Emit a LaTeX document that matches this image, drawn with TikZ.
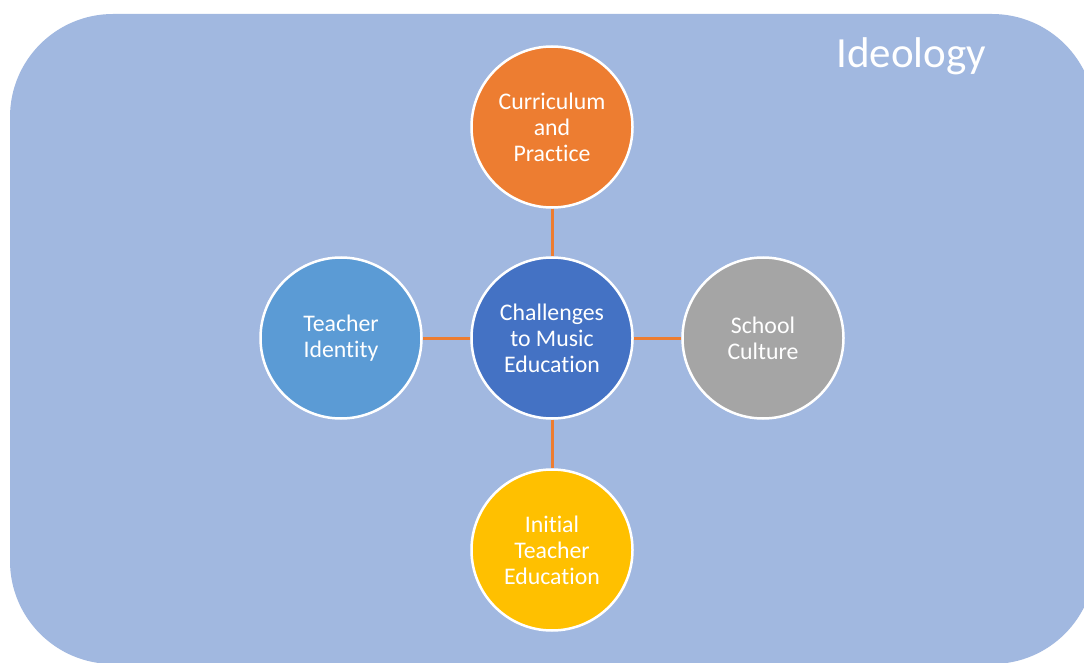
\documentclass[tikz,border=0pt]{standalone}
\usepackage{fontspec}
\setmainfont[Ligatures={NoCommon,NoContextual}]{Carlito}
\definecolor{bgblue}{RGB}{161,184,224}
\definecolor{corange}{RGB}{237,125,49}
\definecolor{cblue}{RGB}{68,114,196}
\definecolor{clight}{RGB}{91,155,213}
\definecolor{cgray}{RGB}{165,165,165}
\definecolor{cgold}{RGB}{255,192,0}
\tikzset{
  bubble/.style={circle, minimum size=161pt, inner sep=0pt, draw=white, line width=2.5pt,
    text=white, align=center, font=\fontsize{23.8}{26}\selectfont},
  conn/.style={draw=corange, line width=3pt},
  title/.style={text=white, font=\fontsize{43}{48}\selectfont, inner sep=0pt}
}
\begin{document}
\begin{tikzpicture}[x=1pt,y=-1pt]
\useasboundingbox (0,0) rectangle (1084,663);
\fill[white] (0,0) rectangle (1084,663);
\fill[bgblue, rounded corners=103pt] (10,14) rectangle (1095,664);
\node[title, anchor=base west] (ideo) at (836,68) {Ideology};
\node[bubble, fill=cblue] (center) at (552,338) {Challenges\\to Music\\Education};
\node[bubble, fill=corange] (top) at (552,127) {Curriculum\\and\\Practice};
\node[bubble, fill=clight] (left) at (341,338) {Teacher\\Identity};
\node[bubble, fill=cgray] (right) at (763,338) {School\\Culture};
\node[bubble, fill=cgold] (bottom) at (552,550) {Initial\\Teacher\\Education};
\draw[conn] (top) -- (center);
\draw[conn] (center) -- (bottom);
\draw[conn] (left) -- (center);
\draw[conn] (center) -- (right);
\end{tikzpicture}
\end{document}
